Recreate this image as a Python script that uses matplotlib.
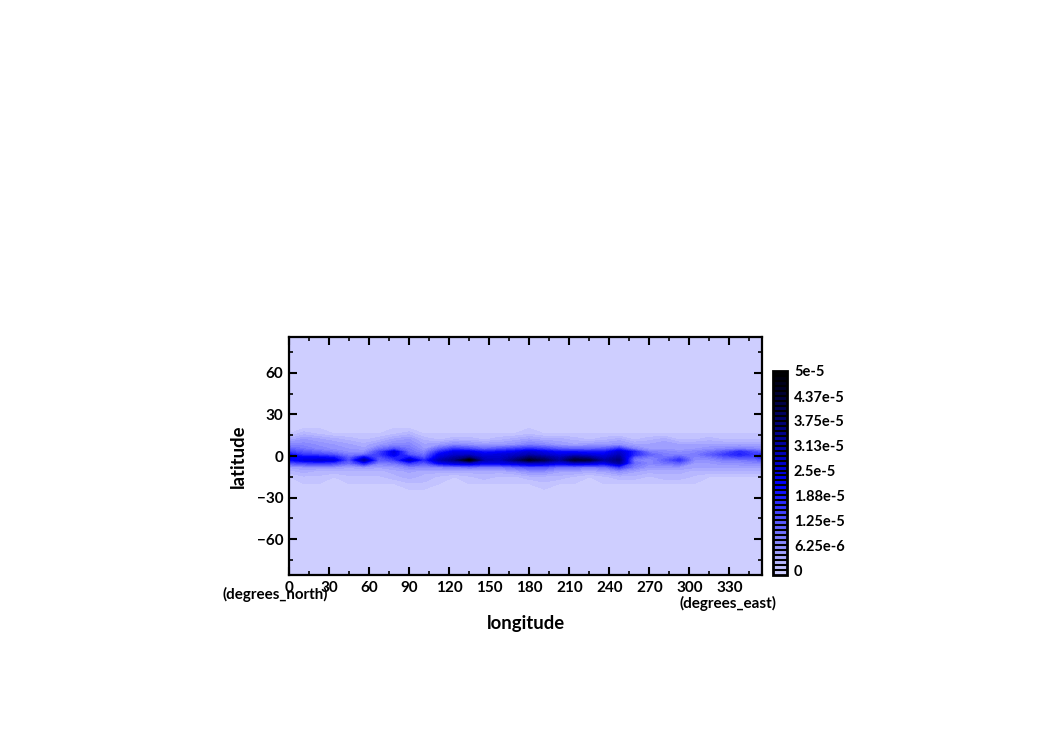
import numpy as np
import matplotlib
matplotlib.use('Agg')
import matplotlib.pyplot as plt
from matplotlib.colors import LinearSegmentedColormap

plt.rcParams['font.family'] = ['Lato', 'DejaVu Sans']
plt.rcParams['font.weight'] = 'bold'

# longitudes of the data columns
lons = [0, 11.25, 22.5, 33.75, 45, 56.25, 67.5, 78.75, 90, 101.25, 112.5, 123.75, 135, 146.25, 157.5, 168.75, 180,
        191.25, 202.5, 213.75, 225, 236.25, 247.5, 258.75, 270, 281.25, 292.5, 303.75, 315, 326.25, 337.5, 348.75, 354.4]
lats = [-86, -24, -20, -15, -11, -8, -5, -3, -1, 1, 3, 5, 8, 12, 16, 20, 86]

# values, units of 1e-6, one list per latitude
v_m86 = [0] * 33
v_m24 = [0] * 33
v_m20 = [0, 0, 0, 0, 0, 0, 0, 0, 1, 1, 0, 0, 0, 0, 0, 0, 0, 1, 0, 0, 0, 0, 0, 0, 0, 0, 0, 0, 0, 0, 0, 0, 0]
v_m15 = [0, 1, 1, 0, 1, 1, 1, 2, 3, 2, 1, 0, 1, 2, 1, 1, 2, 2, 2, 1, 0, 1, 2, 2, 1, 2, 2, 1, 0, 0, 0, 0, 0]
v_m11 = [2, 3, 2, 2, 2, 2, 2, 3, 4, 3, 3, 3, 3, 3, 3, 4, 6, 6, 4, 4, 3, 4, 6, 4, 3, 3, 3, 2, 2, 2, 2, 2, 2]
v_m8 = [4, 5, 5, 5, 4, 5, 4, 5, 7, 7, 7, 8, 9, 8, 8, 10, 12, 12, 9, 9, 8, 9, 15, 8, 5, 5, 5, 4, 4, 4, 4, 4, 4]
v_m5 = [13, 15, 16, 15, 10, 19, 8, 9, 16, 12, 22, 26, 28, 23, 24, 26, 29, 28, 24, 28, 26, 23, 32, 10, 7, 9, 11, 5, 5, 6, 6, 7, 7]
v_m3 = [20, 24, 26, 24, 12, 31, 11, 14, 27, 16, 29, 35, 50, 30, 28, 36, 46, 40, 32, 44, 42, 31, 36, 8, 6, 11, 16, 6, 6, 8, 8, 9, 11]
v_m1 = [24, 21, 21, 19, 11, 21, 12, 18, 19, 12, 25, 31, 36, 27, 27, 31, 38, 34, 29, 36, 33, 27, 33, 11, 8, 9, 12, 7, 8, 11, 13, 13, 17]
v_p1 = [20, 15, 14, 12, 8, 9, 15, 23, 12, 9, 22, 26, 27, 24, 25, 27, 30, 27, 24, 26, 24, 23, 29, 17, 11, 8, 7, 8, 11, 15, 18, 15, 17]
v_p3 = [15, 12, 10, 8, 6, 6, 14, 24, 10, 7, 17, 23, 23, 19, 20, 22, 26, 23, 20, 20, 19, 19, 26, 18, 8, 7, 6, 7, 9, 12, 17, 13, 11]
v_p5 = [11, 9, 7, 6, 5, 4, 9, 13, 9, 5, 11, 16, 14, 11, 13, 15, 17, 15, 12, 11, 11, 12, 17, 8, 5, 5, 4, 5, 6, 7, 8, 7, 6]
v_p8 = [7, 7, 6, 5, 4, 3, 5, 7, 7, 4, 5, 7, 6, 5, 5, 6, 8, 7, 5, 4, 5, 5, 6, 4, 4, 5, 4, 4, 4, 4, 4, 4, 4]
v_p12 = [3, 5, 4, 3, 2, 1, 2, 4, 5, 2, 1, 2, 2, 1, 2, 3, 4, 3, 3, 2, 1, 2, 3, 1, 2, 3, 1, 1, 2, 1, 1, 1, 1]
v_p16 = [0, 2, 1, 0, 0, 0, 0, 1, 2, 0, 0, 0, 0, 0, 0, 0, 1, 0, 0, 0, 0, 0, 0, 0, 0, 0, 0, 0, 0, 0, 0, 0, 0]
v_p20 = [0] * 33
v_p86 = [0] * 33
rows = [v_m86, v_m24, v_m20, v_m15, v_m11, v_m8, v_m5, v_m3, v_m1, v_p1, v_p3, v_p5, v_p8, v_p12, v_p16, v_p20, v_p86]

cbar_ticks = [0, 6.25e-6, 1.25e-5, 1.88e-5, 2.5e-5, 3.13e-5, 3.75e-5, 4.37e-5, 5e-5]
cbar_labels = ['0', '6.25e-6', '1.25e-5', '1.88e-5', '2.5e-5', '3.13e-5', '3.75e-5', '4.37e-5', '5e-5']

field = np.array(rows, dtype=float) * 1e-6
levels = np.arange(-1, 41) * 1.25e-6

cmap = LinearSegmentedColormap.from_list(
    'lavblue', [(0, (0.83, 0.83, 1.0)), (0.44, (0.0, 0.0, 1.0)), (0.72, (0.0, 0.0, 0.5)), (1, (0.0, 0.0, 0.0))])

fig = plt.figure(figsize=(10.5, 7.42), dpi=100)
W, H = 1050, 742
ax = fig.add_axes([289 / W, (H - 575) / H, 473 / W, 238 / H])
cf = ax.contourf(lons, lats, field, levels=levels, cmap=cmap)
ax.set_xlim(0, 354.4)
ax.set_ylim(-86, 86)

ax.set_xticks(np.arange(0, 331, 30))
ax.set_xticks(np.arange(0, 354, 15), minor=True)
ax.set_yticks([-60, -30, 0, 30, 60])
ax.set_yticks(np.arange(-75, 76, 15), minor=True)
ax.tick_params(which='major', direction='in', length=6, width=1.5, top=True, right=True, labelsize=11, pad=4)
ax.tick_params(which='minor', direction='in', length=3, width=1.2, top=True, right=True)
ax.set_yticklabels(['\u221260', '\u221230', '0', '30', '60'])
for s in ax.spines.values():
    s.set_linewidth(1.6)

fig.text(526 / W, 1 - 623 / H, 'longitude', ha='center', va='center', fontsize=13.3)
fig.text(238 / W, 1 - 456 / H, 'latitude', ha='center', va='center', rotation=90, fontsize=13.3)
fig.text(275 / W, 1 - 594 / H, '(degrees_north)', ha='center', va='center', fontsize=10.9)
fig.text(727.5 / W, 1 - 603 / H, '(degrees_east)', ha='center', va='center', fontsize=11)

cax = fig.add_axes([773 / W, (H - 575) / H, 14 / W, 204 / H])
cb = fig.colorbar(cf, cax=cax, drawedges=True, ticks=cbar_ticks)
cb.ax.set_yticklabels(cbar_labels)
cb.ax.tick_params(length=0, labelsize=10.5, pad=5)
cb.ax.minorticks_off()
cb.dividers.set_linewidth(1.5)
cb.dividers.set_color('black')
cb.outline.set_linewidth(2)

fig.savefig('out.png', dpi=100)
